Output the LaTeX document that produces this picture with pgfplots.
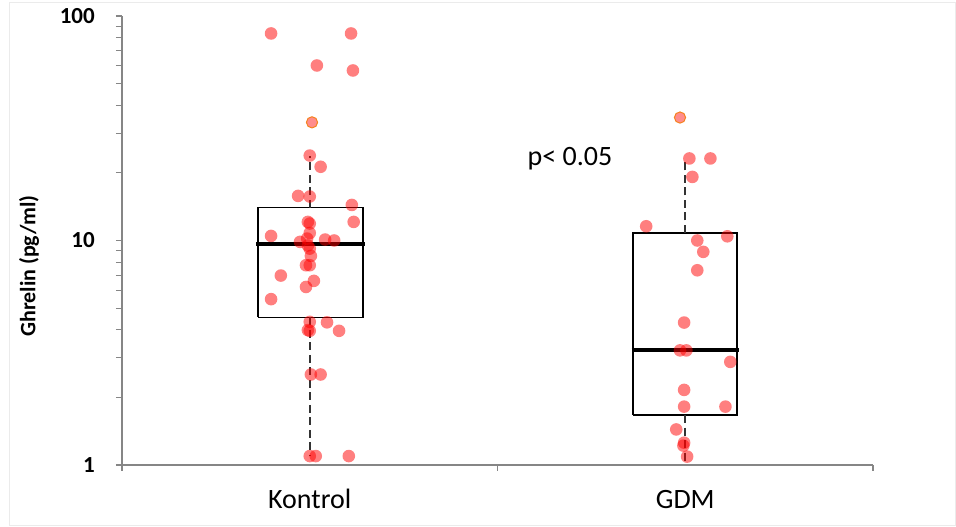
\documentclass[border=0pt]{standalone}
\usepackage{pgfplots}
\pgfplotsset{compat=1.18}
\usepackage{fontspec}
\setmainfont{Carlito}
\definecolor{axgray}{RGB}{134,134,134}
\definecolor{framegray}{RGB}{235,235,235}
\definecolor{outorange}{RGB}{245,130,30}
\definecolor{outfill}{RGB}{255,140,140}
\begin{document}
\begin{tikzpicture}
\path[use as bounding box] (0,0) rectangle (956pt,527pt);
\draw[framegray, line width=1pt] (9.5pt,1.5pt) rectangle (955.5pt,524pt);
\begin{axis}[
  at={(122pt,62pt)}, anchor=south west,
  scale only axis, width=751pt, height=449pt,
  ymode=log, log basis y=10, ymin=1, ymax=100,
  xmin=0.5, xmax=2.5,
  clip=false,
  axis lines*=left,
  axis line style={axgray, line width=1.2pt},
  tick align=outside,
  major tick length=6pt, minor tick length=6pt,
  every tick/.style={axgray, line width=1.1pt},
  ytick={1,10,100},
  yticklabels={\textbf{1},\textbf{10},\textbf{100}},
  minor ytick={2,3,4,5,6,7,8,9,20,30,40,50,60,70,80,90},
  yticklabel style={font=\bfseries\fontsize{23}{27}\selectfont, anchor=east, inner sep=0pt, xshift=-21pt},
  xtick={0.5,1.5,2.5},
  xticklabels={,,},
  extra x ticks={1,2},
  extra x tick labels={Kontrol,GDM},
  extra x tick style={major tick length=0pt, xticklabel style={anchor=base, yshift=-44pt, font=\fontsize{28}{33}\selectfont}},
  ylabel={\textbf{Ghrelin (pg/ml)}},
  ylabel style={at={(axis description cs:-0.1238,0.443)}, anchor=center, font=\fontsize{22}{26}\selectfont},
]
% points
\addplot[only marks, mark=*, mark size=6.3pt, color=red, mark options={fill=red, draw opacity=0, fill opacity=0.5}] coordinates {
(0.897,83.6) (1.110,83.6) (1.019,60.2) (1.115,57.2) (1.000,23.9) (1.029,21.3)
(0.969,15.8) (1.000,15.7) (1.112,14.4) (1.117,12.1) (0.897,10.48) (0.995,12.1)
(1.000,11.9) (1.000,10.8) (0.993,10.2) (0.974,9.86) (1.041,10.1) (1.065,10.0)
(0.995,9.5) (1.000,9.2) (1.003,8.54) (0.990,7.76) (1.000,7.76) (0.923,6.98)
(1.011,6.61) (0.990,6.21) (0.897,5.48) (1.000,4.34) (1.046,4.32) (0.995,3.99)
(1.000,3.96) (1.078,3.96) (1.003,2.53) (1.029,2.53) (1.000,1.096) (1.016,1.096)
(1.104,1.096)
};
\addplot[only marks, mark=*, mark size=6.3pt, color=red, mark options={fill=red, draw opacity=0, fill opacity=0.5}] coordinates {
(2.011,23.2) (2.067,23.2) (2.019,19.2) (1.896,11.57) (2.112,10.44) (2.032,10.0)
(2.048,8.9) (2.032,7.37) (1.997,4.31) (1.986,3.24) (2.003,3.24) (2.120,2.88)
(1.997,2.16) (1.997,1.82) (2.107,1.82) (1.976,1.44) (1.997,1.257) (1.995,1.22)
(2.005,1.09)
};
% outliers
\addplot[only marks, mark=*, mark size=5.6pt, color=outorange, mark options={draw=outorange, line width=1pt, fill=outfill}] coordinates {
(1.006,33.6) (1.986,35.3)
};
% boxes
\addplot[black, line width=1.2pt] coordinates {(0.862,4.54) (1.142,4.54) (1.142,14.02) (0.862,14.02) (0.862,4.54)};
\addplot[black, line width=3.8pt] coordinates {(0.858,9.62) (1.146,9.62)};
\addplot[black!80, line width=1.8pt, dash pattern=on 8pt off 4.5pt] coordinates {(1.0,14.02) (1.0,23.9)};
\addplot[black!80, line width=1.8pt, dash pattern=on 8pt off 4.5pt] coordinates {(1.0,4.54) (1.0,1.1)};
\addplot[black, line width=1.2pt] coordinates {(1.861,1.67) (2.138,1.67) (2.138,10.8) (1.861,10.8) (1.861,1.67)};
\addplot[black, line width=3.8pt] coordinates {(1.857,3.25) (2.142,3.25)};
\addplot[black!80, line width=1.8pt, dash pattern=on 8pt off 4.5pt] coordinates {(2.0,10.8) (2.0,22.8)};
\addplot[black!80, line width=1.8pt, dash pattern=on 8pt off 4.5pt] coordinates {(2.0,1.67) (2.0,1.0)};
\node[anchor=base, font=\fontsize{28}{33}\selectfont, inner sep=0pt] at (axis cs:1.693,21.6) {p< 0.05};
\end{axis}
\end{tikzpicture}
\end{document}
